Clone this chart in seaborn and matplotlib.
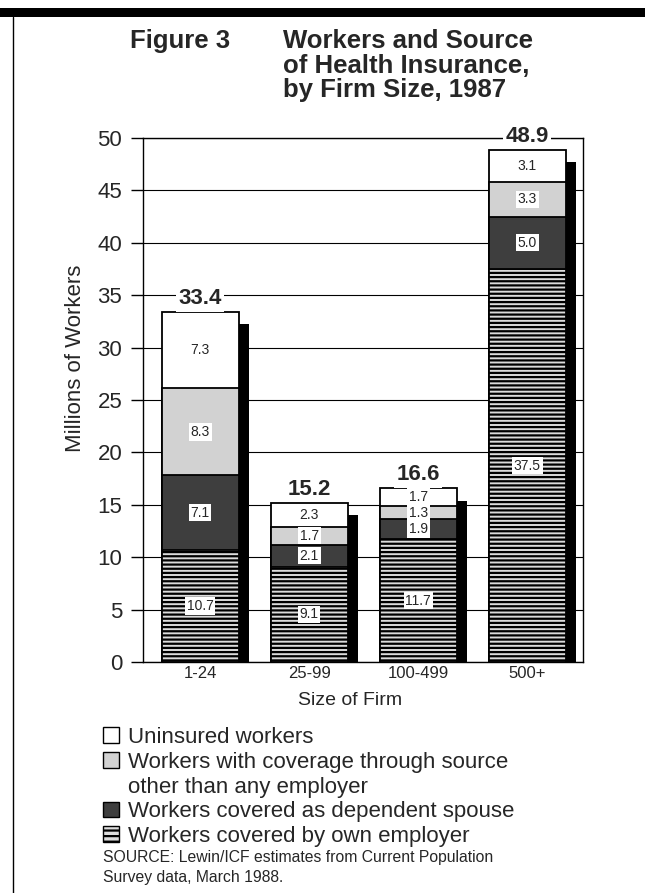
import numpy as np
import pandas as pd
import matplotlib
matplotlib.use("Agg")
import matplotlib.pyplot as plt
import matplotlib.patheffects as pe
from matplotlib.patches import Patch, Rectangle
from matplotlib.lines import Line2D
import seaborn as sns

# Workers (millions) by firm size and source of health insurance, 1987
firm_sizes = ["1-24", "25-99", "100-499", "500+"]
own_employer = [10.7, 9.1, 11.7, 37.5]
dependent_spouse = [7.1, 2.1, 1.9, 5.0]
other_source = [8.3, 1.7, 1.3, 3.3]
uninsured = [7.3, 2.3, 1.7, 3.1]
totals = [33.4, 15.2, 16.6, 48.9]

series_names = ["Workers covered by own employer",
                "Workers covered as dependent spouse",
                "Workers with coverage through source\nother than any employer",
                "Uninsured workers"]
series_values = [own_employer, dependent_spouse, other_source, uninsured]
face_colors = ["#dcdcdc", "#3e3e3e", "#d2d2d2", "#ffffff"]
hatches = ["----", "", "", ""]

rows = []
for name, vals in zip(series_names, series_values):
    for size, v in zip(firm_sizes, vals):
        rows.append({"size": size, "series": name, "value": v})
df = pd.DataFrame(rows)
wide = df.pivot(index="size", columns="series", values="value").loc[firm_sizes, series_names]
cum = wide.cumsum(axis=1)

sns.set_theme(style="white")
plt.rcParams["font.family"] = ["Liberation Sans", "DejaVu Sans"]
plt.rcParams["hatch.linewidth"] = 1.6

fig = plt.figure(figsize=(6.45, 8.93), dpi=100)
ax = fig.add_axes([143 / 645, 1 - 662 / 893, 440 / 645, 524 / 893])
ax.set_axisbelow(True)

bar_w = 0.71
# stacked bars: draw cumulative tops from the back layer to the front
for i in range(len(series_names) - 1, -1, -1):
    name = series_names[i]
    plot_df = pd.DataFrame({"size": firm_sizes, "top": cum[name].values})
    kws = {}
    if i == len(series_names) - 1:
        kws["path_effects"] = [pe.SimplePatchShadow(offset=(7, -9), shadow_rgbFace="black", alpha=1.0),
                               pe.Normal()]
    sns.barplot(data=plot_df, x="size", y="top", order=firm_sizes, color=face_colors[i],
                saturation=1, width=bar_w, errorbar=None, edgecolor="black",
                linewidth=1.3, hatch=hatches[i] if hatches[i] else None, ax=ax, **kws)

# segment value labels and bar totals
for j, size in enumerate(firm_sizes):
    base = 0.0
    for name, vals in zip(series_names, series_values):
        v = vals[j]
        ax.text(j, base + v / 2, f"{v:.1f}", ha="center", va="center", fontsize=10,
                bbox=dict(boxstyle="square,pad=0.12", fc="white", ec="none"), zorder=5)
        base += v
    ax.text(j, totals[j] + 0.25, f"{totals[j]:.1f}", ha="center", va="bottom",
            fontsize=16, fontweight="bold", clip_on=False,
            bbox=dict(boxstyle="square,pad=0.1", fc="white", ec="none"), zorder=6)

ax.set_xlim(-0.525, 3.51)
ax.set_ylim(0, 50)
ax.set_yticks(np.arange(0, 51, 5))
ax.yaxis.grid(True, color="black", linewidth=0.8)
ax.xaxis.grid(False)
for s in ax.spines.values():
    s.set_color("black")
    s.set_linewidth(1.0)
    s.set_visible(True)
ax.tick_params(axis="y", left=True, length=9, width=1.0, color="black", labelsize=16, pad=6)
ax.tick_params(axis="x", bottom=False, length=0, labelsize=12, pad=3)
ax.set_xlabel("Size of Firm", fontsize=14)
ax.xaxis.set_label_coords(0.47, -0.057)
ax.set_ylabel("Millions of Workers", fontsize=16)
ax.yaxis.set_label_coords(-0.13, 0.58)

# title block
fig.text(130 / 645, 1 - 29 / 893, "Figure 3", fontsize=18.5, fontweight="bold", va="top", ha="left")
fig.text(283 / 645, 1 - 29 / 893, "Workers and Source\nof Health Insurance,\nby Firm Size, 1987",
         fontsize=18.5, fontweight="bold", va="top", ha="left", linespacing=1.03)

# page frame: heavy rule at the top, thin rule down the left side
fig.add_artist(Rectangle((0, 1 - 17 / 893), 1, 9 / 893, transform=fig.transFigure,
                         facecolor="black", edgecolor="none"))
fig.add_artist(Line2D([13 / 645, 13 / 645], [0, 1 - 17 / 893], transform=fig.transFigure,
                      color="black", linewidth=1.0))

# legend
handles = [Patch(facecolor=face_colors[3], edgecolor="black"),
           Patch(facecolor=face_colors[2], edgecolor="black"),
           Patch(visible=False),
           Patch(facecolor=face_colors[1], edgecolor="black"),
           Patch(facecolor=face_colors[0], edgecolor="black", hatch="---")]
labels = ["Uninsured workers",
          "Workers with coverage through source",
          "other than any employer",
          "Workers covered as dependent spouse",
          "Workers covered by own employer"]
fig.legend(handles, labels, loc="upper left", bbox_to_anchor=(103 / 645, 1 - 727 / 893),
           frameon=False, fontsize=16, handlelength=0.72, handleheight=0.72,
           handletextpad=0.4, labelspacing=0.17, borderaxespad=0, borderpad=0)

fig.text(103 / 645, 1 - 850 / 893,
         "SOURCE: Lewin/ICF estimates from Current Population\nSurvey data, March 1988.",
         fontsize=11.3, va="top", ha="left", linespacing=1.38)

fig.savefig("out.png", dpi=100, facecolor="white")
